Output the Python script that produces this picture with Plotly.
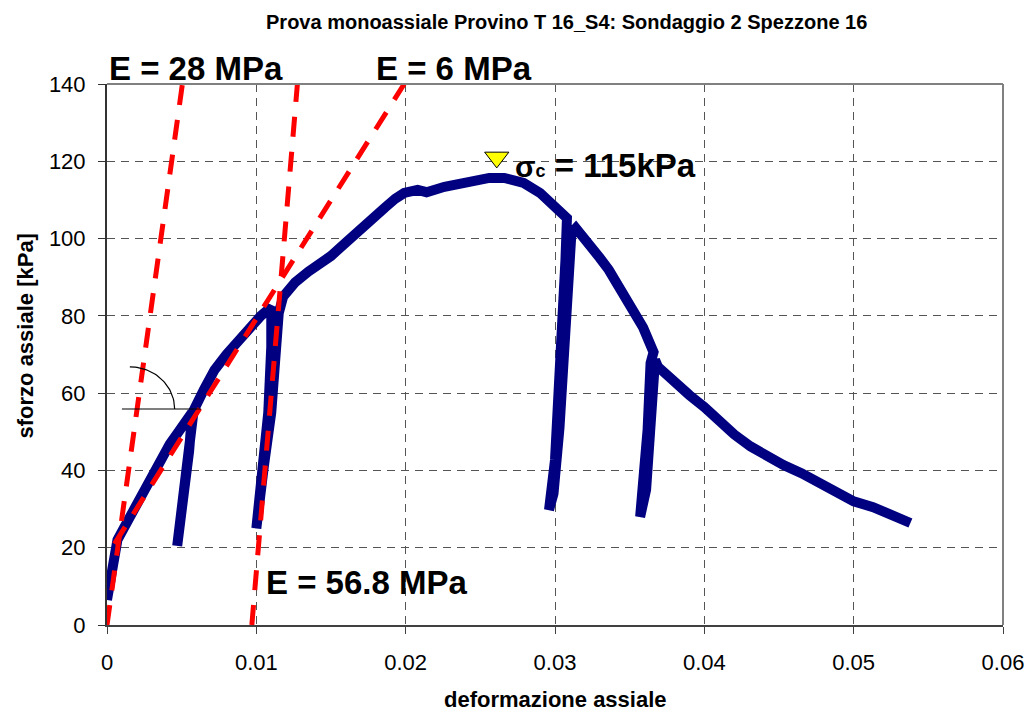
import numpy as np
import plotly.graph_objects as go

# ---- data ----
strain = [0.0, 0.0002, 0.0004, 0.0007, 0.0014, 0.0020, 0.0027, 0.0032, 0.0037, 0.0042,
          0.0047, 0.0052, 0.0057,
          0.0055, 0.0052, 0.0049, 0.0047,
          0.0049, 0.0052, 0.0055, 0.0058,
          0.0065, 0.0072, 0.0080, 0.0088, 0.0095, 0.0103, 0.0110,
          0.0110, 0.0108, 0.0104, 0.0102, 0.0100,
          0.0102, 0.0105, 0.0110, 0.0113, 0.0115, 0.0118, 0.0122, 0.0126, 0.0135,
          0.0143, 0.0150, 0.0160, 0.0168, 0.0177, 0.0186, 0.0193, 0.0199, 0.0208,
          0.0214, 0.0226, 0.0243, 0.0256, 0.0266, 0.0279, 0.0290, 0.0301, 0.0308,
          0.0307, 0.0305, 0.0303, 0.0300, 0.0296,
          0.0299, 0.0303, 0.0306, 0.0309, 0.0311, 0.0314, 0.0321, 0.0330, 0.0336,
          0.0343, 0.0350, 0.0359, 0.0366,
          0.0364, 0.0362, 0.0359, 0.0357,
          0.0361, 0.0363, 0.0365, 0.0367, 0.0369, 0.0380, 0.0390, 0.0400, 0.0410,
          0.0420, 0.0431, 0.0442, 0.0453, 0.0465, 0.0476, 0.0487, 0.0500, 0.0513,
          0.0527, 0.0538]
stress = [6.5, 12, 17, 22, 27, 31.5, 36.7, 40, 43.5, 46.8,
          49.5, 52.3, 55,
          45, 35, 27, 20.5,
          28, 38, 48, 55.5,
          61, 66, 70, 73.8, 77, 80, 82.3,
          72, 55, 41, 29, 25,
          30, 41, 55, 68, 80.7, 85, 87.3, 88.7, 91.5,
          93.5, 95.5, 99, 102, 105, 108, 110.3, 111.8, 112.6,
          112, 113.4, 114.9, 115.7, 115.7, 114.4, 111.8, 108.2, 105.3,
          94.5, 77, 60, 42.7, 29.8,
          34, 51, 68.6, 86, 101.4, 102.7, 99.6, 95, 91.9,
          87, 82.5, 77, 70.6,
          67.8, 50.5, 37.5, 28,
          35, 48, 61, 68.6, 66.8, 62.5, 59.5, 56.4, 52.8,
          49.3, 46.2, 43.5, 41.4, 39.3, 37, 35, 32, 30.5,
          28, 26.4]

# tangent-modulus lines (strain, stress end points)
e28_strain = [0.0, 0.00505]
e28_stress = [0.0, 140.0]
e568_strain = [0.0097, 0.01275]
e568_stress = [0.0, 140.0]
e6_strain = [0.0005, 0.0199]
e6_stress = [21.0, 140.0]

peak_strain = [0.0261]
peak_stress = [121.0]

# angle symbol (horizontal line + arc)
angle_line_strain = [0.0010, 0.0063]
angle_line_stress = [55.9, 55.9]
arc_center = (0.00153, 55.9)
arc_radius = (0.0030, 10.9)

x_ticks = [0, 0.01, 0.02, 0.03, 0.04, 0.05, 0.06]
x_tick_text = ["0", "0.01", "0.02", "0.03", "0.04", "0.05", "0.06"]
y_ticks = [0, 20, 40, 60, 80, 100, 120, 140]

FONT = "Liberation Sans, Arial, sans-serif"
RED = "#FF0000"
NAVY = "#000080"

fig = go.Figure()

fig.add_trace(go.Scatter(x=strain, y=stress, mode="lines",
                         line=dict(color=NAVY, width=10), showlegend=False,
                         hoverinfo="skip"))

for xs, ys in [(e28_strain, e28_stress), (e568_strain, e568_stress), (e6_strain, e6_stress)]:
    fig.add_trace(go.Scatter(x=xs, y=ys, mode="lines",
                             line=dict(color=RED, width=5, dash="20px,15px"),
                             showlegend=False, hoverinfo="skip"))

fig.add_trace(go.Scatter(x=angle_line_strain, y=angle_line_stress, mode="lines",
                         line=dict(color="black", width=1.2), showlegend=False,
                         hoverinfo="skip"))
theta = np.linspace(0, np.pi / 2, 40)
fig.add_trace(go.Scatter(x=arc_center[0] + arc_radius[0] * np.cos(theta),
                         y=arc_center[1] + arc_radius[1] * np.sin(theta),
                         mode="lines", line=dict(color="black", width=1.2),
                         showlegend=False, hoverinfo="skip"))

fig.add_trace(go.Scatter(x=peak_strain, y=peak_stress, mode="markers",
                         marker=dict(symbol="triangle-down", size=21, color="#FFFF00",
                                     line=dict(color="black", width=1)),
                         showlegend=False, hoverinfo="skip"))

grid = dict(showgrid=True, gridcolor="#555555", gridwidth=1, griddash="8px,6px")

fig.update_xaxes(range=[0, 0.06], tickvals=x_ticks, ticktext=x_tick_text,
                 showline=True, linecolor="#404040", linewidth=2,
                 ticks="outside", ticklen=7, tickcolor="#404040",
                 tickfont=dict(family=FONT, size=22, color="black"),
                 ticklabelstandoff=10, zeroline=False, **grid)
fig.update_yaxes(range=[0, 140], tickvals=y_ticks,
                 showline=True, linecolor="#333333", linewidth=2,
                 ticks="outside", ticklen=7, tickcolor="#333333",
                 tickfont=dict(family=FONT, size=22, color="black"),
                 ticklabelstandoff=8, zeroline=False, **grid)

# grey frame top / right
fig.add_shape(type="line", xref="x domain", yref="y domain", x0=0, x1=1, y0=1, y1=1,
              line=dict(color="#808080", width=2))
fig.add_shape(type="line", xref="x domain", yref="y domain", x0=1, x1=1, y0=0, y1=1,
              line=dict(color="#808080", width=2))

big = dict(family=FONT, size=33, color="black")
label_y_top = 143.9 / 140.0  # paper fraction above the plot top
fig.add_annotation(xref="x", yref="paper", x=0.0, y=label_y_top,
                   text="<b>E = 28 MPa</b>", showarrow=False,
                   xanchor="left", yanchor="middle", font=big)
fig.add_annotation(xref="x", yref="paper", x=0.0179, y=label_y_top,
                   text="<b>E = 6 MPa</b>", showarrow=False,
                   xanchor="left", yanchor="middle", font=big)
fig.add_annotation(x=0.0105, y=11.1, text="<b>E = 56.8 MPa</b>", showarrow=False,
                   xanchor="left", yanchor="middle", font=big)
fig.add_annotation(x=0.0272, y=119.0,
                   text="<b><span style='font-size:30px'>σ</span><span style='font-size:18px'>c</span> = 115kPa</b>",
                   showarrow=False, xanchor="left", yanchor="middle", font=big)

fig.add_annotation(xref="paper", yref="paper", x=0.5, y=-0.138,
                   text="<b>deformazione assiale</b>", showarrow=False,
                   xanchor="center", yanchor="middle", borderpad=0,
                   font=dict(family=FONT, size=22, color="black"))
fig.add_annotation(xref="paper", yref="paper", x=-0.0905, y=0.535,
                   text="<b>sforzo assiale [kPa]</b>", showarrow=False, textangle=-90,
                   xanchor="center", yanchor="middle",
                   font=dict(family=FONT, size=22, color="black"))

fig.update_layout(
    width=1036, height=713,
    margin=dict(l=107, r=25, t=84, b=88),
    paper_bgcolor="white", plot_bgcolor="white",
    title=dict(text="<b>Prova monoassiale Provino T 16_S4: Sondaggio 2 Spezzone 16</b>",
               x=0.547, xref="container", xanchor="center",
               y=1 - 22 / 713, yref="container", yanchor="middle",
               font=dict(family=FONT, size=20, color="black")),
)

fig.write_html("out.html")
